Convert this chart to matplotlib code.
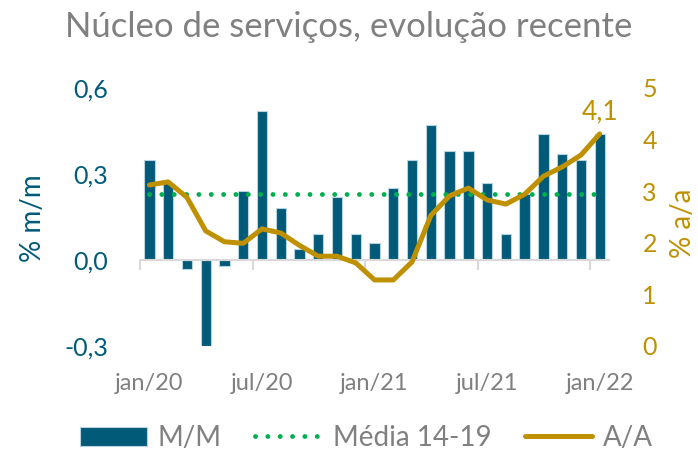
import matplotlib.pyplot as plt
from matplotlib.transforms import blended_transform_factory

# Dados (jan/20 a jan/22)
meses = ['jan/20', 'fev/20', 'mar/20', 'abr/20', 'mai/20', 'jun/20',
         'jul/20', 'ago/20', 'set/20', 'out/20', 'nov/20', 'dez/20',
         'jan/21', 'fev/21', 'mar/21', 'abr/21', 'mai/21', 'jun/21',
         'jul/21', 'ago/21', 'set/21', 'out/21', 'nov/21', 'dez/21',
         'jan/22']
mm = [0.35, 0.27, -0.03, -0.30, -0.02, 0.24, 0.52, 0.18, 0.04, 0.09,
      0.22, 0.09, 0.06, 0.25, 0.35, 0.47, 0.38, 0.38, 0.27, 0.09,
      0.23, 0.44, 0.37, 0.35, 0.44]
aa = [3.12, 3.18, 2.88, 2.23, 2.02, 1.99, 2.27, 2.19, 1.95, 1.74,
      1.74, 1.61, 1.28, 1.28, 1.63, 2.53, 2.91, 3.06, 2.83, 2.75,
      2.94, 3.29, 3.47, 3.70, 4.11]
media_14_19 = 0.23
rotulos_x = ['jan/20', 'jul/20', 'jan/21', 'jul/21', 'jan/22']

azul = '#005a78'
dourado = '#bf9000'
verde = '#00b050'
cinza = '#808080'

plt.rcParams['font.family'] = ['Lato', 'DejaVu Sans']

fig = plt.figure(figsize=(6.98, 4.55), dpi=100)
ax = fig.add_axes([0.2006, 0.2396, 0.672, 0.567])
ax2 = ax.twinx()

x = list(range(len(meses)))

barras = ax.bar(x, mm, width=0.55, color=azul, edgecolor='#b7d3e0',
                linewidth=0.8, label='M/M', zorder=2)
media, = ax.plot(x, [media_14_19] * len(x), color=verde,
                 lw=3.5, linestyle=(0, (0.01, 2.53)),
                 dash_capstyle='round', label='Média 14-19', zorder=3)
linha, = ax2.plot(x, aa, color=dourado, lw=3.6, solid_joinstyle='round',
                  solid_capstyle='round', label='A/A', zorder=4)
ax2.annotate('4,1', (x[-1], aa[-1]), xytext=(0, 7),
             textcoords='offset points', ha='center', va='bottom',
             color=dourado, fontsize=19)

ax.set_xlim(-0.5, len(x) - 0.5)
ax.set_ylim(-0.3, 0.6)
ax2.set_ylim(0, 5)

ax.set_yticks([-0.3, 0.0, 0.3, 0.6])
ax.set_yticklabels(['-0,3', '0,0', '0,3', '0,6'])
ax2.set_yticks(range(6))

for a in (ax, ax2):
    for s in ['top', 'left', 'right']:
        a.spines[s].set_visible(False)
ax2.spines['bottom'].set_visible(False)

ax.spines['bottom'].set_position(('data', 0))
ax.spines['bottom'].set_color('#d9d9d9')
ax.spines['bottom'].set_linewidth(1.5)
ax.set_xticks([-0.5, 5.5, 11.5, 17.5, 23.5])
ax.set_xticklabels([])
ax.tick_params(axis='x', length=7, width=1.5, color='#d9d9d9')

ax.tick_params(axis='y', length=0, pad=23, labelsize=18, labelcolor=azul)
ax2.tick_params(axis='y', length=0, pad=24, labelsize=18,
                labelcolor=dourado)

trans = blended_transform_factory(ax.transData, ax.transAxes)
for i, r in zip([0, 6, 12, 18, 24], rotulos_x):
    ax.text(i, -0.145, r, transform=trans, ha='center', va='center',
            color=cinza, fontsize=17)

fig.text(0.047, 0.52, '% m/m', rotation=90, ha='center',
         va='center', color=azul, fontsize=20)
fig.text(0.978, 0.51, '% a/a', rotation=90, ha='center', va='center',
         color=dourado, fontsize=20)

fig.suptitle('Núcleo de serviços, evolução recente', x=0.5, y=0.975,
             color=cinza, fontsize=25)

fig.legend(handles=[barras, media, linha], loc='center',
           bbox_to_anchor=(0.525, 0.037), ncol=3, frameon=False,
           fontsize=20, labelcolor=cinza, handlelength=2.4,
           handleheight=0.72, columnspacing=1.2, handletextpad=0.4)

fig.savefig('out.png', dpi=100)
